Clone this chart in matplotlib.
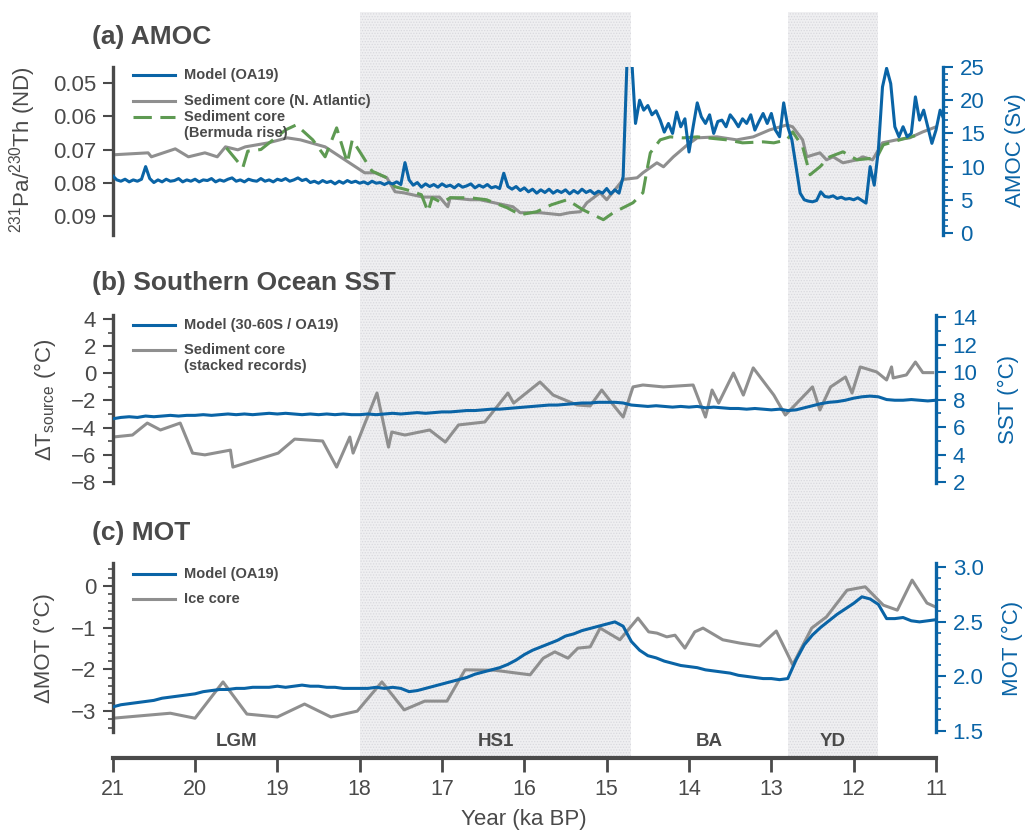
import numpy as np
import matplotlib
matplotlib.use("Agg")
import matplotlib.pyplot as plt
from matplotlib.lines import Line2D
from matplotlib.ticker import MultipleLocator

plt.rcParams['font.family'] = ['Liberation Sans', 'DejaVu Sans']
plt.rcParams['mathtext.fontset'] = 'custom'
plt.rcParams['mathtext.rm'] = 'Liberation Sans'
plt.rcParams['hatch.linewidth'] = 0.6

BLUE = '#0a64a6'
GRAY = '#8f8f8f'
GREEN = '#5e9a52'
INK = '#4a4a4a'

# ---- (a) AMOC -------------------------------------------------------------
# model AMOC (Sv), 50-yr steps from 21.0 ka
amoc_sv = [
    8.6, 8.0, 7.8, 8.1, 7.7, 8.0, 7.8, 8.1, 10.0, 8.2, 7.6, 8.0, 7.7, 8.1, 7.8, 7.9, 8.2, 7.7, 8.0, 7.8,
    8.1, 7.7, 8.0, 7.9, 8.2, 7.7, 8.0, 7.8, 8.1, 8.3, 7.8, 8.0, 7.7, 8.1, 7.9, 7.8, 8.2, 7.8, 8.0, 7.7,
    8.1, 7.9, 8.2, 7.8, 8.0, 8.3, 7.9, 8.1, 7.6, 7.8, 7.5, 7.9, 7.6, 7.8, 7.4, 7.8, 7.5, 7.9, 7.6, 7.8,
    7.5, 7.7, 7.4, 7.8, 7.5, 7.6, 7.3, 7.6, 7.4, 7.7, 7.3, 10.6, 8.0, 7.2, 7.6, 6.9, 7.4, 7.0, 7.3, 6.9,
    7.4, 7.0, 7.2, 6.8, 7.3, 6.9, 7.1, 7.4, 6.8, 7.2, 6.9, 7.3, 6.8, 7.0, 6.7, 9.0, 7.0, 6.6, 7.0, 6.4,
    6.8, 6.2, 6.6, 6.0, 6.5, 6.1, 6.6, 6.0, 6.4, 6.1, 6.5, 5.9, 6.4, 6.0, 6.6, 6.1, 6.4, 5.9, 6.3, 6.0,
    6.7, 5.9, 6.5, 6.0, 8.5, 27.0, 27.0, 16.5, 20.0, 18.5, 19.2, 17.8, 18.4, 17.0, 15.2, 16.5, 15.0, 18.2, 16.0, 17.2,
    12.2, 16.0, 19.6, 17.5, 16.5, 17.8, 15.0, 16.8, 17.0, 16.0, 17.8, 17.0, 16.0, 17.2, 16.5, 17.8, 15.5, 16.8, 18.0, 16.5,
    18.0, 15.5, 14.5, 19.6, 16.0, 14.0, 10.0, 6.0, 5.0, 4.8, 4.7, 4.9, 6.2, 5.5, 5.4, 5.6, 5.2, 5.4, 5.1, 5.2,
    5.0, 5.3, 4.9, 4.5, 10.0, 7.2, 12.5, 22.0, 24.8, 22.5, 16.0, 14.5, 16.0, 14.5, 15.0, 20.5, 17.0, 18.5, 16.0, 13.5,
    15.5, 18.5, 17.0,
]
amoc_year = 21.0 - 0.05 * np.arange(len(amoc_sv))

# 231Pa/230Th, North Atlantic core
pa_na_year = [21.0, 20.57, 20.53, 20.24, 20.08, 19.88, 19.73, 19.63, 19.48, 19.39, 19.11, 18.88,
              18.72, 18.42, 18.18, 17.94, 17.81, 17.67, 17.57, 17.47, 17.23, 17.03, 16.93, 16.9,
              16.66, 16.54, 16.14, 16.05, 15.81, 15.57, 15.45, 15.32, 15.24, 15.08, 15.0, 14.87,
              14.8, 14.63, 14.56, 14.39, 14.31, 14.19, 14.02, 13.9, 13.66, 13.42, 13.22, 13.02,
              12.81, 12.74, 12.62, 12.57, 12.41, 12.33, 12.25, 12.13, 11.96, 11.89, 11.77, 11.65,
              11.48, 11.32, 11.16, 11.0]
pa_na = [0.0716, 0.0710, 0.0722, 0.0698, 0.0722, 0.0710, 0.0722, 0.0692, 0.0701, 0.0692, 0.0680, 0.0665,
         0.0671, 0.0692, 0.0731, 0.0770, 0.0770, 0.0785, 0.0827, 0.0830, 0.0843, 0.0843, 0.0872, 0.0845,
         0.0851, 0.0851, 0.0872, 0.0890, 0.0890, 0.0896, 0.0890, 0.0887, 0.0860, 0.0830, 0.0851, 0.0812,
         0.0790, 0.0785, 0.0770, 0.0740, 0.0752, 0.0722, 0.0686, 0.0665, 0.0662, 0.0671, 0.0662, 0.0641,
         0.0626, 0.0632, 0.0671, 0.0722, 0.0710, 0.0731, 0.0722, 0.0740, 0.0731, 0.0722, 0.0731, 0.0680,
         0.0671, 0.0665, 0.0647, 0.0632]

# 231Pa/230Th, Bermuda rise core
pa_br_year = [19.62, 19.42, 19.36, 19.2, 18.9, 18.77, 18.57, 18.42, 18.28, 18.15, 18.09, 17.85,
              17.67, 17.57, 17.43, 17.25, 17.17, 17.12, 17.0, 16.9, 16.66, 16.46, 16.21, 16.05,
              15.85, 15.67, 15.48, 15.29, 15.04, 14.92, 14.68, 14.56, 14.51, 14.47, 14.35, 14.23,
              14.07, 13.9, 13.54, 13.35, 13.1, 12.97, 12.81, 12.74, 12.62, 12.53, 12.41, 12.29,
              12.13, 11.96, 11.72, 11.64, 11.4, 11.2]
pa_br = [0.0695, 0.0755, 0.0705, 0.0700, 0.0641, 0.0626, 0.0671, 0.0722, 0.0635, 0.0740, 0.0671, 0.0765,
         0.0785, 0.0812, 0.0821, 0.0836, 0.0887, 0.0845, 0.0860, 0.0845, 0.0845, 0.0851, 0.0875, 0.0896,
         0.0887, 0.0866, 0.0851, 0.0881, 0.0911, 0.0890, 0.0860, 0.0830, 0.0761, 0.0710, 0.0671, 0.0662,
         0.0665, 0.0662, 0.0671, 0.0680, 0.0677, 0.0680, 0.0671, 0.0647, 0.0692, 0.0776, 0.0752, 0.0722,
         0.0707, 0.0731, 0.0725, 0.0686, 0.0668, 0.0655]

# ---- (b) Southern Ocean SST -------------------------------------------------
# model SST 30-60S (degC), 100-yr steps from 21.0 ka
sst_model = [
    6.6, 6.7, 6.75, 6.7, 6.8, 6.75, 6.8, 6.85, 6.8, 6.85,
    6.85, 6.9, 6.85, 6.9, 6.95, 6.9, 6.95, 6.9, 6.95, 7.0,
    6.95, 7.0, 6.95, 6.9, 6.95, 6.9, 6.95, 6.9, 6.95, 6.9,
    6.9, 6.95, 6.9, 6.95, 7.0, 6.95, 7.0, 7.05, 7.0, 7.05,
    7.1, 7.1, 7.15, 7.2, 7.2, 7.25, 7.3, 7.3, 7.35, 7.4,
    7.45, 7.5, 7.55, 7.6, 7.6, 7.65, 7.7, 7.75, 7.75, 7.8,
    7.8, 7.8, 7.75, 7.6, 7.55, 7.5, 7.55, 7.5, 7.45, 7.5,
    7.45, 7.5, 7.4, 7.45, 7.4, 7.35, 7.35, 7.3, 7.35, 7.3,
    7.25, 7.3, 7.2, 7.25, 7.4, 7.55, 7.7, 7.8, 7.85, 7.95,
    8.1, 8.2, 8.25, 8.2, 8.0, 7.95, 7.95, 8.0, 7.95, 7.9,
    7.95,
]
sst_year = 21.0 - 0.1 * np.arange(len(sst_model))

# stacked sediment records, Delta T source (degC)
dt_core_year = [21.0, 20.76, 20.58, 20.42, 20.18, 20.03, 19.88, 19.57, 19.54, 18.99, 18.79, 18.45,
                18.28, 18.12, 18.08, 17.79, 17.65, 17.61, 17.45, 17.15, 16.96, 16.8, 16.48, 16.2,
                16.13, 15.81, 15.65, 15.36, 15.2, 15.06, 14.9, 14.8, 14.68, 14.56, 14.31, 13.95,
                13.8, 13.72, 13.64, 13.46, 13.34, 13.22, 12.97, 12.83, 12.5, 12.41, 12.28, 12.1,
                12.02, 11.92, 11.72, 11.6, 11.54, 11.52, 11.36, 11.25, 11.16, 11.04]
dt_core = [-4.69, -4.54, -3.66, -4.17, -3.66, -5.87, -6.0, -5.65, -6.9, -5.87, -4.84, -4.98,
           -6.9, -4.69, -5.87, -1.45, -5.43, -4.32, -4.54, -4.17, -5.06, -3.8, -3.58, -1.45,
           -2.19, -0.64, -1.6, -2.33, -2.4, -1.23, -2.48, -3.22, -1.0, -0.86, -1.0, -0.86,
           -3.22, -1.23, -2.19, 0.02, -1.6, 0.4, -1.6, -3.07, -1.0, -2.7, -1.0, -0.27,
           -1.45, 0.47, 0.1, -0.49, 0.47, -0.34, -0.12, 0.83, 0.05, 0.05]

# ---- (c) MOT ---------------------------------------------------------------
# model mean ocean temperature (degC), 100-yr steps from 21.0 ka
mot_model = [
    1.72, 1.74, 1.75, 1.76, 1.77, 1.78, 1.80, 1.81, 1.82, 1.83,
    1.84, 1.86, 1.87, 1.88, 1.88, 1.89, 1.89, 1.90, 1.90, 1.90,
    1.91, 1.90, 1.91, 1.92, 1.91, 1.91, 1.90, 1.90, 1.89, 1.89,
    1.89, 1.89, 1.90, 1.89, 1.90, 1.89, 1.86, 1.87, 1.89, 1.91,
    1.93, 1.95, 1.97, 1.99, 2.02, 2.04, 2.06, 2.08, 2.11, 2.15,
    2.20, 2.24, 2.27, 2.30, 2.33, 2.37, 2.39, 2.42, 2.44, 2.46,
    2.48, 2.50, 2.46, 2.32, 2.24, 2.19, 2.17, 2.14, 2.12, 2.10,
    2.09, 2.08, 2.06, 2.05, 2.04, 2.03, 2.01, 2.00, 1.99, 1.98,
    1.98, 1.97, 1.98, 2.15, 2.29, 2.38, 2.45, 2.51, 2.57, 2.62,
    2.67, 2.73, 2.71, 2.66, 2.53, 2.53, 2.54, 2.51, 2.50, 2.51,
    2.52,
]
mot_year = 21.0 - 0.1 * np.arange(len(mot_model))

# ice core Delta MOT (degC)
ice_year = [21.0, 20.3, 20.0, 19.66, 19.37, 19.0, 18.67, 18.35, 18.03, 17.73, 17.46, 17.21,
            16.94, 16.72, 16.36, 15.93, 15.77, 15.63, 15.47, 15.35, 15.2, 15.08, 14.84, 14.62,
            14.49, 14.39, 14.27, 14.17, 14.05, 13.93, 13.83, 13.59, 13.38, 13.14, 12.94, 12.74,
            12.51, 12.33, 12.08, 11.86, 11.64, 11.47, 11.29, 11.11, 11.01]
ice_dmot = [-3.17, -3.05, -3.17, -2.3, -3.07, -3.14, -2.83, -3.14, -3.0, -2.3, -2.97, -2.76,
            -2.76, -2.01, -2.02, -2.13, -1.73, -1.58, -1.73, -1.49, -1.46, -1.01, -1.29, -0.77,
            -1.1, -1.13, -1.22, -1.18, -1.49, -1.1, -1.01, -1.29, -1.37, -1.44, -1.08, -1.89,
            -1.01, -0.74, -0.1, -0.02, -0.46, -0.58, 0.14, -0.41, -0.5]

# climate intervals
shaded = [(18.0, 14.7), (12.8, 11.7)]
periods = ['LGM', 'HS1', 'BA', 'YD']
period_mid = [19.5, 16.35, 13.75, 12.25]

W, H = 1031, 831
fig = plt.figure(figsize=(W / 100, H / 100), dpi=100)


def box(left, top, right, bottom):
    return [left / W, 1 - bottom / H, (right - left) / W, (bottom - top) / H]


def fx(px):
    return px / W


def fy(py):
    return 1 - py / H


# background axis carries the time axis and the shading
bg = fig.add_axes(box(112.7, 12, 936, 758))
bg.set_xlim(21, 11)
bg.set_ylim(0, 1)
for s in ['left', 'right', 'top']:
    bg.spines[s].set_visible(False)
bg.spines['bottom'].set_linewidth(3)
bg.spines['bottom'].set_color(INK)
bg.set_yticks([])
bg.set_xticks(range(11, 22))
bg.tick_params(axis='x', length=10, width=2, colors=INK, labelsize=15.5, pad=5)
for a, b in shaded:
    bg.axvspan(b, a, facecolor='#efeff1', edgecolor='#d9d9de', hatch='......', lw=0)
for name, mid in zip(periods, period_mid):
    bg.text(mid, 16 / 746, name, transform=bg.get_xaxis_transform(), ha='center', va='center',
            fontsize=13.5, fontweight='bold', color=INK)
fig.text(fx(524), fy(819), 'Year (ka BP)', ha='center', va='center', fontsize=16, color=INK)

px_per_ka = (936 - 112.7) / 10
ax_a = fig.add_axes(box(112.7, 67, 943.3, 235))
ax_a.set_xlim(21, 11 - (943.3 - 936) / px_per_ka)
ax_b = fig.add_axes(box(112.7, 315, 936, 483))
ax_b.set_xlim(21, 11)
ax_c = fig.add_axes(box(112.7, 563, 936, 732))
ax_c.set_xlim(21, 11)


def style_pair(ax, axr):
    ax.patch.set_visible(False)
    ax.tick_params(axis='x', bottom=False, labelbottom=False)
    for s in ['top', 'right', 'bottom']:
        ax.spines[s].set_visible(False)
        axr.spines[s if s != 'right' else 'left'].set_visible(False)
    ax.spines['left'].set_linewidth(2.4)
    ax.spines['left'].set_color(INK)
    axr.spines['right'].set_linewidth(2.4)
    axr.spines['right'].set_color(BLUE)
    ax.tick_params(axis='y', which='major', length=7, width=1.5, colors=INK, labelsize=16, pad=5)
    ax.tick_params(axis='y', which='minor', length=3.5, width=1.2, colors=INK)
    axr.tick_params(axis='y', which='major', length=7, width=1.5, colors=BLUE, labelsize=16, pad=5)
    axr.tick_params(axis='y', which='minor', length=3.5, width=1.2, colors=BLUE)


# (a)
axr_a = ax_a.twinx()
style_pair(ax_a, axr_a)
ax_a.plot(pa_na_year, pa_na, color=GRAY, lw=2.2)
ax_a.plot(pa_br_year, pa_br, color=GREEN, lw=2.2, dashes=(6, 2.8))
ax_a.set_ylim(0.0957, 0.0452)
ax_a.set_yticks([0.05, 0.06, 0.07, 0.08, 0.09])
ax_a.set_yticklabels(['0.05', '0.06', '0.07', '0.08', '0.09'])
axr_a.plot(amoc_year, amoc_sv, color=BLUE, lw=2.2)
axr_a.set_ylim(-0.3, 25)
axr_a.set_yticks([0, 5, 10, 15, 20, 25])
axr_a.yaxis.set_minor_locator(MultipleLocator(1))

# (b)
axr_b = ax_b.twinx()
style_pair(ax_b, axr_b)
ax_b.plot(dt_core_year, dt_core, color=GRAY, lw=2.2)
ax_b.set_ylim(-8.07, 4.29)
ax_b.set_yticks([-8, -6, -4, -2, 0, 2, 4])
ax_b.set_yticklabels(['\u22128', '\u22126', '\u22124', '\u22122', '0', '2', '4'])
ax_b.yaxis.set_minor_locator(MultipleLocator(1))
axr_b.plot(sst_year, sst_model, color=BLUE, lw=2.2)
axr_b.set_ylim(1.93, 14.15)
axr_b.set_yticks([2, 4, 6, 8, 10, 12, 14])
axr_b.yaxis.set_minor_locator(MultipleLocator(1))

# (c)
axr_c = ax_c.twinx()
style_pair(ax_c, axr_c)
ax_c.plot(ice_year, ice_dmot, color=GRAY, lw=2.2)
ax_c.set_ylim(-3.5, 0.55)
ax_c.set_yticks([-3, -2, -1, 0])
ax_c.set_yticklabels(['\u22123', '\u22122', '\u22121', '0'])
ax_c.yaxis.set_minor_locator(MultipleLocator(0.2))
axr_c.plot(mot_year, mot_model, color=BLUE, lw=2.2)
axr_c.set_ylim(1.49, 3.04)
axr_c.set_yticks([1.5, 2.0, 2.5, 3.0])
axr_c.set_yticklabels(['1.5', '2.0', '2.5', '3.0'])
axr_c.yaxis.set_minor_locator(MultipleLocator(0.1))

# panel titles
for txt, y in [('(a) AMOC', 37), ('(b) Southern Ocean SST', 283), ('(c) MOT', 533)]:
    fig.text(fx(92), fy(y), txt, ha='left', va='center', fontsize=19, fontweight='bold', color=INK)

# axis labels
fig.text(fx(23), fy(150), '$^{231}$Pa/$^{230}$Th (ND)', rotation=90, ha='center', va='center',
         fontsize=16, color=INK)
fig.text(fx(1015), fy(150), 'AMOC (Sv)', rotation=90, ha='center', va='center', fontsize=16, color=BLUE)
fig.text(fx(45), fy(400), '\u0394T$_{\\rm source}$ (\u00b0C)', rotation=90, ha='center', va='center',
         fontsize=16, color=INK)
fig.text(fx(1008), fy(400), 'SST (\u00b0C)', rotation=90, ha='center', va='center', fontsize=16, color=BLUE)
fig.text(fx(44), fy(648), '\u0394MOT (\u00b0C)', rotation=90, ha='center', va='center', fontsize=16, color=INK)
fig.text(fx(1012), fy(648), 'MOT (\u00b0C)', rotation=90, ha='center', va='center', fontsize=16, color=BLUE)


# hand-placed legends: handle on the first text line
def legend_row(y, lines, color, dashed=False):
    kw = dict(color=color, lw=2.2, transform=fig.transFigure)
    if dashed:
        kw['dashes'] = (6, 2.8)
    fig.add_artist(Line2D([fx(133), fx(175)], [fy(y), fy(y)], **kw))
    for i, line in enumerate(lines):
        fig.text(fx(184), fy(y + 16 * i), line, ha='left', va='center', fontsize=10.5,
                 fontweight='bold', color=INK)


legend_row(75, ['Model (OA19)'], BLUE)
legend_row(101, ['Sediment core (N. Atlantic)'], GRAY)
legend_row(117, ['Sediment core', '(Bermuda rise)'], GREEN, dashed=True)

legend_row(325, ['Model (30-60S / OA19)'], BLUE)
legend_row(350, ['Sediment core', '(stacked records)'], GRAY)

legend_row(574, ['Model (OA19)'], BLUE)
legend_row(599, ['Ice core'], GRAY)

fig.savefig('out.png', dpi=100)
